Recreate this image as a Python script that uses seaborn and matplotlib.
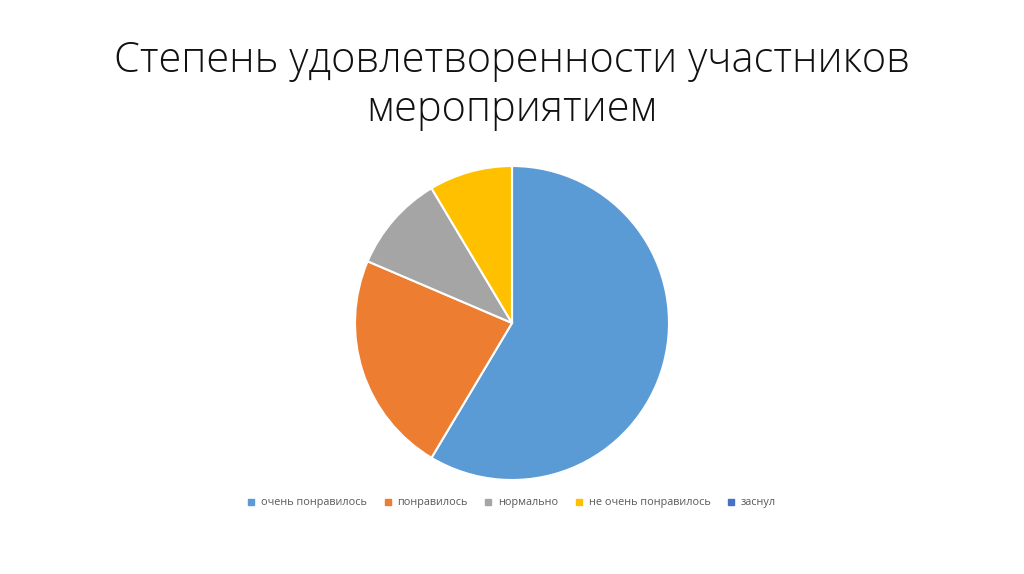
import matplotlib
matplotlib.use("Agg")
import matplotlib.pyplot as plt
import seaborn as sns
from matplotlib.lines import Line2D

sns.set_theme(style="white")
plt.rcParams['font.family'] = ['Open Sans', 'DejaVu Sans']

title = "Степень удовлетворенности участников\nмероприятием"
categories = ["очень понравилось", "понравилось", "нормально", "не очень понравилось", "заснул"]
values = [41, 16, 7, 6, 0]
colors = ["#5B9BD5", "#ED7D31", "#A5A5A5", "#FFC000", "#4472C4"]

fig = plt.figure(figsize=(10.24, 5.74), dpi=100)
fig.patch.set_facecolor("white")

ax = fig.add_axes([(512 - 157) / 1024, (574 - 323 - 157) / 574, 314 / 1024, 314 / 574])
ax.pie(values, colors=colors, startangle=90, counterclock=False,
       wedgeprops=dict(edgecolor="white", linewidth=1.5))
ax.set_xlim(-1, 1)
ax.set_ylim(-1, 1)
ax.set_aspect("equal")
ax.axis("off")

fig.text(0.5, 1 - 85 / 574, title, ha="center", va="center", fontsize=30,
         color="#111111", linespacing=1.2, fontweight="light")

handles = [Line2D([0], [0], marker="s", linestyle="", markersize=4.5,
                  markerfacecolor=c, markeredgecolor=c) for c in colors]
fig.legend(handles, categories, loc="center", bbox_to_anchor=(0.5, 1 - 503 / 574),
           ncol=5, frameon=False, fontsize=7.8, handlelength=0.6, handletextpad=0.6,
           columnspacing=1.6, labelcolor="#595959")

fig.savefig("out.png", dpi=100, facecolor="white")
